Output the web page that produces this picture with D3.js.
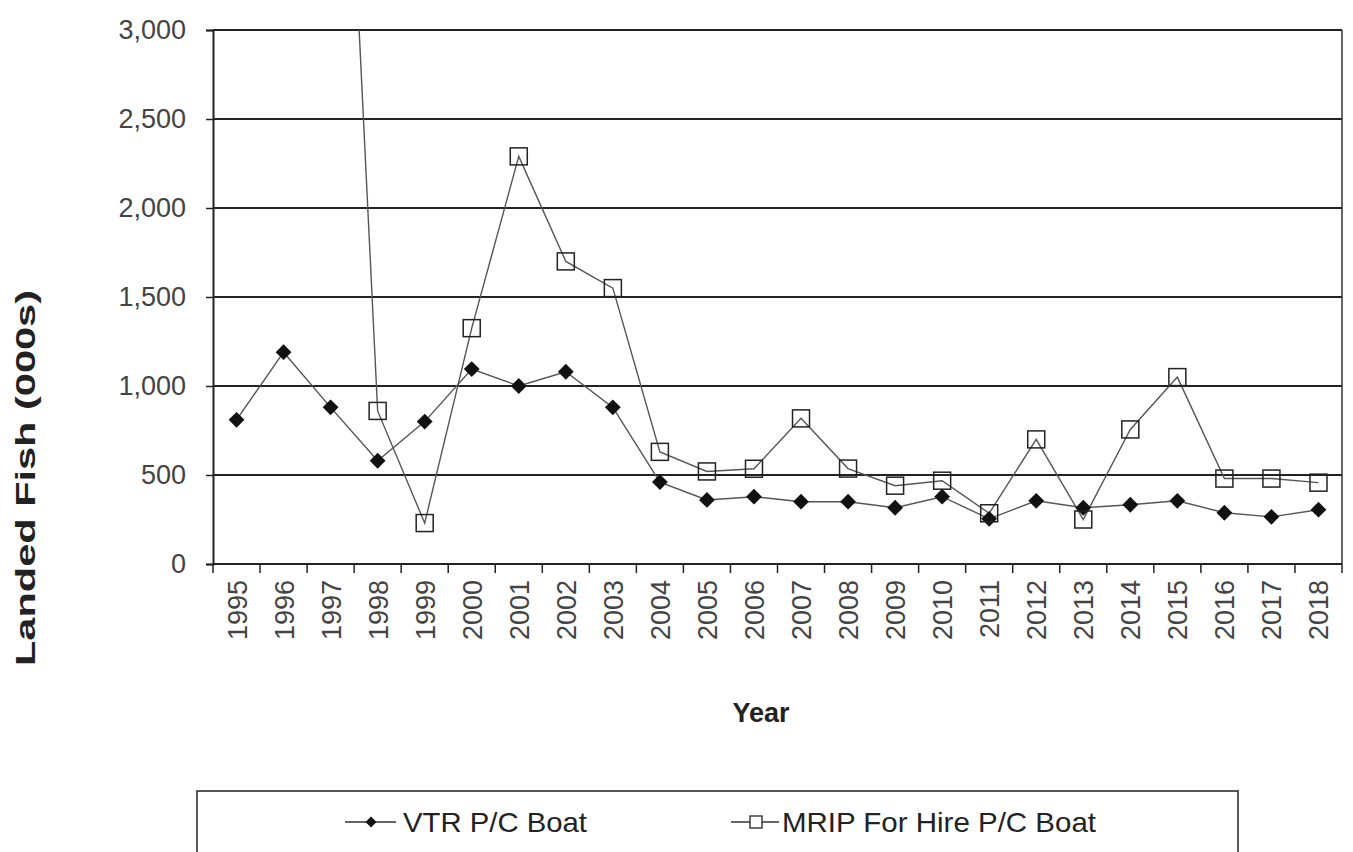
<!DOCTYPE html>
<html>
<head>
<meta charset="utf-8">
<script src="https://cdn.jsdelivr.net/npm/d3@7"></script>
<style>
  body { margin: 0; background: #fff; }
  text { font-family: "Liberation Sans", Arial, sans-serif; }
</style>
</head>
<body>
<div id="chart"></div>
<script>
// data (thousands of fish)
const years = ["1995","1996","1997","1998","1999","2000","2001","2002","2003","2004","2005","2006",
               "2007","2008","2009","2010","2011","2012","2013","2014","2015","2016","2017","2018"];
const vtr = [810, 1190, 880, 580, 800, 1095, 1000, 1080, 880, 460, 360, 378,
             350, 350, 316, 378, 254, 355, 316, 333, 355, 288, 265, 305];
const mrip = [null, null, 6300, 860, 230, 1325, 2290, 1700, 1550, 630, 520, 535,
              818, 536, 440, 468, 285, 700, 250, 756, 1050, 480, 480, 457];
const yTicks = [0, 500, 1000, 1500, 2000, 2500, 3000];

const W = 1353, H = 852;
const margin = { top: 30, right: 11, bottom: 288, left: 213 };
const width = W - margin.left - margin.right;
const height = H - margin.top - margin.bottom;

const svg = d3.select("#chart").append("svg")
    .attr("width", W).attr("height", H);

const g = svg.append("g")
    .attr("transform", "translate(" + margin.left + "," + margin.top + ")");

// scales
const x = d3.scaleBand().domain(years).range([0, width]);
const y = d3.scaleLinear().domain([0, 3000]).range([height, 0]);
const cx = d => x(d) + x.bandwidth() / 2;

// clip so the 1997 MRIP point runs off the top
g.append("clipPath").attr("id", "plot")
  .append("rect").attr("width", width).attr("height", height);

// gridlines
g.selectAll(".grid").data(yTicks.slice(1)).enter().append("line")
    .attr("x1", 0).attr("x2", width)
    .attr("y1", d => y(d)).attr("y2", d => y(d))
    .attr("stroke", "#222").attr("stroke-width", 2);

// right border
g.append("line").attr("x1", width).attr("x2", width)
    .attr("y1", 0).attr("y2", height)
    .attr("stroke", "#333").attr("stroke-width", 1.5);

// y axis
const yAxis = g.append("g")
    .call(d3.axisLeft(y).tickValues(yTicks).tickSize(7).tickPadding(20).tickFormat(d3.format(",")));
yAxis.select(".domain").attr("stroke", "#222").attr("stroke-width", 2);
yAxis.selectAll(".tick line").attr("stroke", "#222").attr("stroke-width", 1.5);
yAxis.selectAll("text").attr("font-size", 27).attr("fill", "#444")
    .style("font-family", "'Liberation Sans', Arial, sans-serif");

// x axis: ticks at band edges
const xAxisG = g.append("g").attr("transform", "translate(0," + height + ")");
xAxisG.append("line").attr("x1", 0).attr("x2", width)
    .attr("stroke", "#222").attr("stroke-width", 2);
xAxisG.selectAll(".xt").data(years.concat(["end"])).enter().append("line")
    .attr("x1", (d, i) => i * x.step()).attr("x2", (d, i) => i * x.step())
    .attr("y1", 0).attr("y2", 9)
    .attr("stroke", "#222").attr("stroke-width", 1.5);
xAxisG.selectAll(".xl").data(years).enter().append("text")
    .attr("transform", d => "translate(" + (cx(d) + 10) + ",16) rotate(-90)")
    .attr("text-anchor", "end")
    .attr("font-size", 27).attr("fill", "#444")
    .text(d => d);

// lines
const line = d3.line()
    .defined(d => d.v != null)
    .x(d => cx(d.year)).y(d => y(d.v));

const vtrData = years.map((yr, i) => ({ year: yr, v: vtr[i] }));
const mripData = years.map((yr, i) => ({ year: yr, v: mrip[i] }));

const plot = g.append("g").attr("clip-path", "url(#plot)");

plot.append("path").datum(mripData).attr("d", line)
    .attr("fill", "none").attr("stroke", "#555").attr("stroke-width", 1.4);
plot.append("path").datum(vtrData).attr("d", line)
    .attr("fill", "none").attr("stroke", "#555").attr("stroke-width", 1.4);

// markers
const diamond = d3.symbol().type(d3.symbolSquare).size(125);
plot.selectAll(".vtr").data(vtrData).enter().append("path")
    .attr("d", diamond)
    .attr("transform", d => "translate(" + cx(d.year) + "," + y(d.v) + ") rotate(45)")
    .attr("fill", "#111");

plot.selectAll(".mrip").data(mripData.filter(d => d.v != null)).enter().append("rect")
    .attr("x", d => cx(d.year) - 8.5).attr("y", d => y(d.v) - 8.5)
    .attr("width", 17).attr("height", 17)
    .attr("fill", "none").attr("stroke", "#222").attr("stroke-width", 1.5);

// axis titles
svg.append("text")
    .attr("transform", "translate(35," + 478 + ") rotate(-90)")
    .attr("text-anchor", "middle")
    .attr("font-size", 27).attr("font-weight", "bold").attr("fill", "#222")
    .attr("textLength", 376).attr("lengthAdjust", "spacingAndGlyphs")
    .text("Landed Fish (000s)");

svg.append("text")
    .attr("x", 761).attr("y", 722)
    .attr("text-anchor", "middle")
    .attr("font-size", 27).attr("font-weight", "bold").attr("fill", "#222")
    .text("Year");

// legend (cut off at the bottom like the scan)
const lg = svg.append("g");
lg.append("rect").attr("x", 197).attr("y", 791).attr("width", 1041).attr("height", 80)
    .attr("fill", "none").attr("stroke", "#222").attr("stroke-width", 1.5);

lg.append("line").attr("x1", 345).attr("x2", 396).attr("y1", 822).attr("y2", 822)
    .attr("stroke", "#333").attr("stroke-width", 1.5);
lg.append("path").attr("d", d3.symbol().type(d3.symbolSquare).size(60))
    .attr("transform", "translate(371,822) rotate(45)").attr("fill", "#111");
lg.append("text").attr("x", 403).attr("y", 832)
    .attr("font-size", 28).attr("fill", "#222")
    .attr("textLength", 184).attr("lengthAdjust", "spacingAndGlyphs")
    .text("VTR P/C Boat");

lg.append("line").attr("x1", 731).attr("x2", 779).attr("y1", 822).attr("y2", 822)
    .attr("stroke", "#333").attr("stroke-width", 1.5);
lg.append("rect").attr("x", 750).attr("y", 816).attr("width", 12).attr("height", 12)
    .attr("fill", "#fff").attr("stroke", "#222").attr("stroke-width", 1.3);
lg.append("text").attr("x", 782).attr("y", 832)
    .attr("font-size", 28).attr("fill", "#222")
    .attr("textLength", 314).attr("lengthAdjust", "spacingAndGlyphs")
    .text("MRIP For Hire P/C Boat");
</script>
</body>
</html>
